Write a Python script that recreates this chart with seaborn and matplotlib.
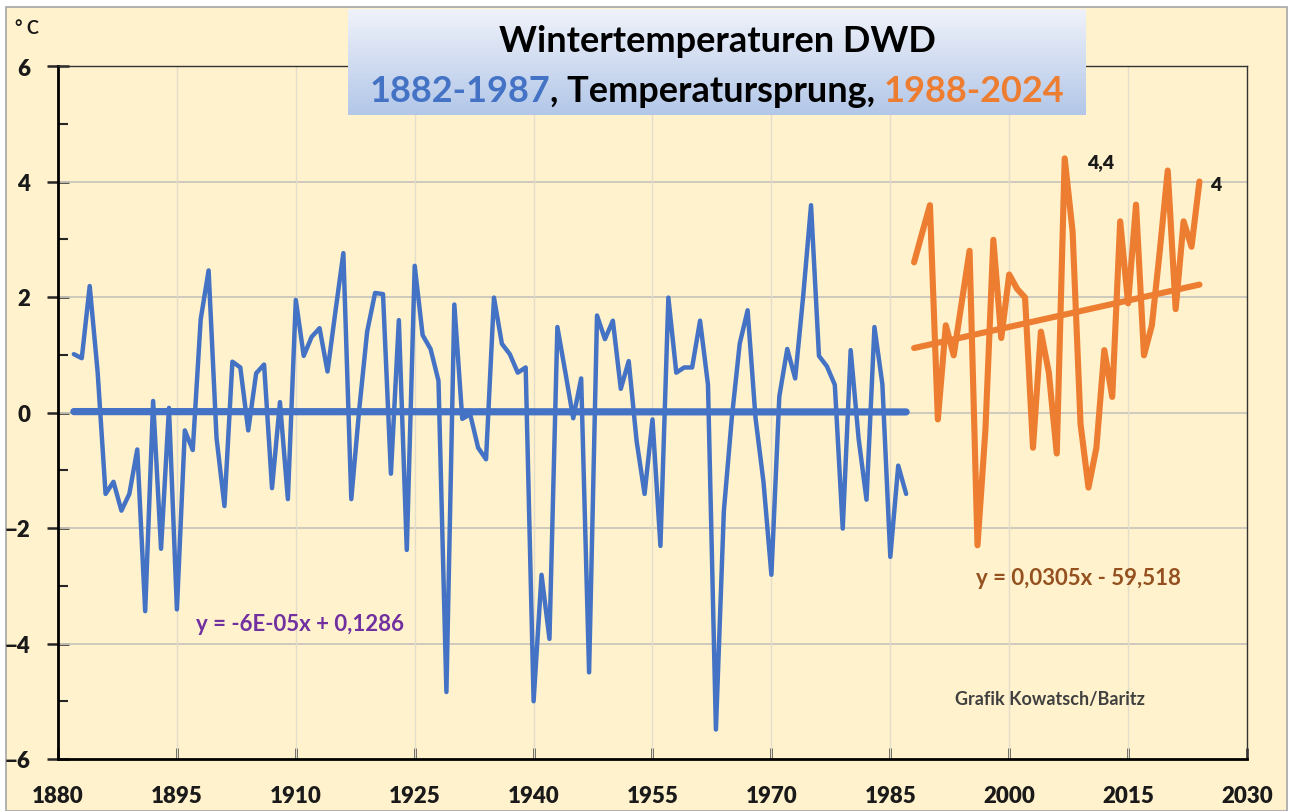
import numpy as np
import pandas as pd
import matplotlib
matplotlib.use("Agg")
import matplotlib.pyplot as plt
import seaborn as sns
from matplotlib.patches import Rectangle
from matplotlib.offsetbox import TextArea, HPacker, AnchoredOffsetbox
from matplotlib.ticker import MultipleLocator

# winter means Germany (DWD)
years_early = list(range(1882, 1988))
temp_early = [1.01, 0.94, 2.19, 0.7, -1.41, -1.2, -1.70, -1.41, -0.64, -3.44,
              0.2, -2.36, 0.08, -3.41, -0.31, -0.65, 1.61, 2.46, -0.44, -1.62,
              0.88, 0.78, -0.31, 0.68, 0.83, -1.31, 0.18, -1.50, 1.95, 0.98,
              1.31, 1.46, 0.71, 1.75, 2.76, -1.50, 0.05, 1.40, 2.07, 2.05,
              -1.06, 1.60, -2.38, 2.54, 1.34, 1.10, 0.55, -4.84, 1.87, -0.11,
              -0.03, -0.61, -0.81, 1.99, 1.19, 1.01, 0.69, 0.78, -5.0, -2.81,
              -3.92, 1.48, 0.7, -0.10, 0.59, -4.50, 1.68, 1.27, 1.59, 0.41,
              0.89, -0.5, -1.41, -0.12, -2.31, 1.99, 0.69, 0.78, 0.78, 1.59,
              0.48, -5.49, -1.71, -0.1, 1.19, 1.77, -0.1, -1.2, -2.81, 0.28,
              1.10, 0.59, 2.0, 3.59, 0.98, 0.80, 0.48, -2.01, 1.08, -0.45,
              -1.51, 1.48, 0.49, -2.50, -0.92, -1.41]
years_late = list(range(1988, 2025))
temp_late = [2.60, 3.1, 3.59, -0.12, 1.51, 0.99, 1.9, 2.80, -2.30, -0.3,
             2.99, 1.29, 2.39, 2.14, 1.99, -0.61, 1.40, 0.69, -0.71, 4.4,
             3.13, -0.2, -1.30, -0.61, 1.08, 0.27, 3.31, 1.89, 3.60, 0.99,
             1.51, 2.8, 4.19, 1.79, 3.31, 2.87, 4.0]

# trend line coefficients printed on the chart
trend_early = (-6e-05, 0.1286)
trend_late = (0.0305, -59.518)

early = pd.DataFrame({"Jahr": years_early, "Temp": temp_early})
late = pd.DataFrame({"Jahr": years_late, "Temp": temp_late})
early["Trend"] = trend_early[0] * early["Jahr"] + trend_early[1]
late["Trend"] = trend_late[0] * late["Jahr"] + trend_late[1]

BLUE = "#4472C4"
ORANGE = "#ED7D31"
BG = "#FFF2CC"

sns.set_style("white")
plt.rcParams["font.family"] = ["Lato", "DejaVu Sans"]
plt.rcParams["font.weight"] = "bold"

fig = plt.figure(figsize=(12.9, 8.12), dpi=100)
fig.patch.set_facecolor("white")
fig.add_artist(Rectangle((6 / 1290, 0), 1281 / 1290, 1 - 8 / 812,
                         transform=fig.transFigure, facecolor=BG,
                         edgecolor="#A6A6A6", linewidth=1.2, zorder=0))

ax = fig.add_axes([58 / 1290, 1 - 760 / 812, (1247 - 58) / 1290, (760 - 67) / 812])
ax.set_facecolor(BG)

sns.lineplot(data=early, x="Jahr", y="Temp", ax=ax, color=BLUE, linewidth=3.2, zorder=3)
sns.lineplot(data=early, x="Jahr", y="Trend", ax=ax, color=BLUE, linewidth=5.2,
             zorder=3, solid_capstyle="round")
sns.lineplot(data=late, x="Jahr", y="Temp", ax=ax, color=ORANGE, linewidth=4.4, zorder=3)
sns.lineplot(data=late, x="Jahr", y="Trend", ax=ax, color=ORANGE, linewidth=4.4,
             zorder=3, solid_capstyle="round")

ax.set_xlim(1880, 2030)
ax.set_ylim(-6, 6)
ax.set_xticks(range(1880, 2031, 15))
ax.set_yticks(range(-6, 7, 2))
ax.yaxis.set_minor_locator(MultipleLocator(1))
ax.set_xlabel("")
ax.set_ylabel("")

ax.grid(False)
for v in range(-4, 6, 2):
    ax.axhline(v, color="#C9C6BC", linewidth=1.3, zorder=1)
for yr in range(1895, 2030, 15):
    ax.axvline(yr, color="#E3DDCB", linewidth=1.0, zorder=1)

for side in ["left", "bottom"]:
    ax.spines[side].set_color("black")
    ax.spines[side].set_linewidth(2.0)
for side in ["top", "right"]:
    ax.spines[side].set_visible(True)
    ax.spines[side].set_color("#333333")
    ax.spines[side].set_linewidth(1.0)

ax.tick_params(axis="y", which="major", direction="inout", length=16, width=1.8,
               pad=12, labelsize=16, left=True, labelcolor="#1A1A1A")
ax.tick_params(axis="y", which="minor", direction="in", length=7, width=1.5, left=True)
ax.tick_params(axis="x", which="major", direction="in", length=8, width=1.8,
               pad=19, labelsize=16, bottom=True, labelcolor="#1A1A1A")
plt.setp(ax.get_xticklabels() + ax.get_yticklabels(), fontweight="heavy")

# texts in the plot
ax.text(1910.5, -3.65, "y = -6E-05x + 0,1286", color="#7030A0", fontsize=16,
        ha="center", va="center")
ax.text(2008.7, -2.85, "y = 0,0305x - 59,518", color="#94501E", fontsize=16,
        ha="center", va="center")
ax.text(2005.1, -4.96, "Grafik Kowatsch/Baritz", color="#404040", fontsize=13,
        ha="center", va="center")
ax.text(2011.6, 4.35, "4,4", color="#1A1A1A", fontsize=14, fontweight="heavy",
        ha="center", va="center")
ax.text(2026.1, 3.95, "4", color="#1A1A1A", fontsize=14, fontweight="heavy",
        ha="center", va="center")
fig.text(27 / 1290, 1 - 29 / 812, "° C", fontsize=13, ha="center", va="center",
         color="#1A1A1A")

# title box with gradient
tax = fig.add_axes([348 / 1290, 1 - 116 / 812, (1086 - 348) / 1290, (116 - 10) / 812],
                   zorder=5)
top = np.array([0.94, 0.95, 0.98])
bottom = np.array([0.70, 0.78, 0.91])
grad = np.linspace(0, 1, 100)[:, None, None] * (bottom - top) + top
grad = np.repeat(grad, 2, axis=1)
tax.imshow(grad, aspect="auto", extent=[0, 1, 0, 1])
tax.axis("off")

fig.text(717 / 1290, 1 - 41 / 812, "Wintertemperaturen DWD", fontsize=26,
         ha="center", va="center", color="black", zorder=6)
parts = [("1882-1987", BLUE), (", Temperatursprung, ", "black"), ("1988-2024", ORANGE)]
areas = [TextArea(s, textprops=dict(color=c, fontsize=26, fontweight="bold"))
         for s, c in parts]
box = HPacker(children=areas, align="baseline", pad=0, sep=0)
anch = AnchoredOffsetbox(loc="center", child=box, pad=0, frameon=False,
                         bbox_to_anchor=(717 / 1290, 1 - 91 / 812),
                         bbox_transform=fig.transFigure)
anch.set_zorder(6)
fig.add_artist(anch)

fig.savefig("out.png", dpi=100, facecolor=fig.get_facecolor())
